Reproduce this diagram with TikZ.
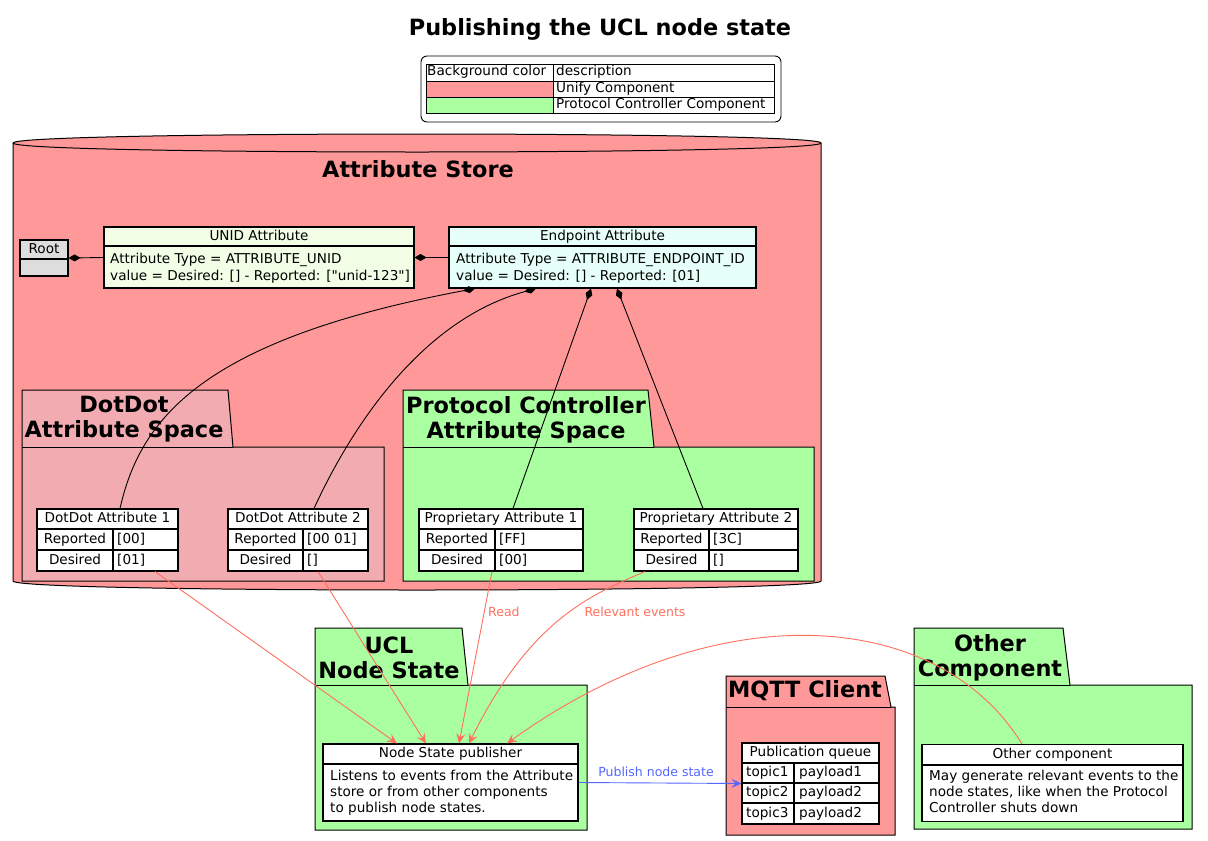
\documentclass[tikz,border=0pt]{standalone}
\usepackage{fontspec}
\setmainfont{DejaVu Sans}
\usetikzlibrary{arrows.meta}

\definecolor{unifyred}{HTML}{FF9999}
\definecolor{pcgreen}{HTML}{AAFFA0}
\definecolor{ddpink}{HTML}{F1ABB1}
\definecolor{unidfill}{HTML}{F2FFE6}
\definecolor{epfill}{HTML}{E6FFF9}
\definecolor{rootgray}{HTML}{DDDDDD}
\definecolor{eventred}{HTML}{FF6F5E}
\definecolor{pubblue}{HTML}{5566FF}

\tikzset{
    txt/.style={inner sep=0pt, font=\fontsize{13.6}{17}\selectfont, text height=9.6pt, text depth=2.8pt},
    ttl/.style={inner sep=0pt, font=\bfseries\fontsize{22.4}{25}\selectfont, align=center},
    lbl/.style={inner sep=0pt, font=\fontsize{12.5}{15}\selectfont},
    clsbox/.style={draw, line width=1.1pt, inner sep=0pt},
    pkg/.style={draw, line width=1pt},
    compose/.style={{Diamond[length=12pt,width=7pt]}-, line width=0.9pt},
    event/.style={draw=eventred, line width=0.9pt, -{Stealth[length=10pt,width=9pt,inset=4pt]}},
    publish/.style={draw=pubblue, line width=0.9pt, -{Stealth[length=10pt,width=9pt,inset=4pt]}}
}

\begin{document}
\begin{tikzpicture}[x=1pt, y=-1pt]
        \path[use as bounding box, fill=white] (0,0) rectangle (1208,841);

        % title and legend
        \node[ttl] at (600,29) (title) {Publishing the UCL node state};
        \node[draw, rounded corners=6pt, minimum width=360, minimum height=66, inner sep=0pt, line width=0.9pt] at (601,89) (legend) {};
        \fill[unifyred] (426,81) rectangle (553,97);
        \fill[pcgreen] (426,97) rectangle (553,113);
        \draw[line width=0.9pt] (426,64) rectangle (774,113);
        \draw[line width=0.9pt] (426,81) -- (774,81) (426,97) -- (774,97) (553,64) -- (553,113);
        \node[txt, anchor=west] at (427,72.5) (lgcolor) {Background color};
        \node[txt, anchor=west] at (556,72.5) (lgdesc) {description};
        \node[txt, anchor=west] at (556,89) (lgunify) {Unify Component};
        \node[txt, anchor=west] at (556,105) (lgpc) {Protocol Controller Component};

        % attribute store
        \draw[line width=1pt, fill=unifyred] (13,143) -- (13,581) .. controls (13,593) and (821,593) .. (821,581)
            -- (821,143) .. controls (821,131) and (13,131) .. (13,143) -- cycle;
        \draw[line width=1pt] (13,143) .. controls (13,155) and (821,155) .. (821,143);
        \node[ttl] at (418,169) (store) {Attribute Store};

        \draw[pkg, fill=ddpink] (22,390) -- (228,390) -- (233,447) -- (384,447) -- (384,581) -- (22,581) -- cycle;
        \draw[pkg] (22,447) -- (233,447);
        \node[ttl] at (124,419.5) (ddspace) {DotDot\\Attribute Space};

        \draw[pkg, fill=pcgreen] (403,390) -- (648,390) -- (654,447) -- (814,447) -- (814,581) -- (403,581) -- cycle;
        \draw[pkg] (403,447) -- (654,447);
        \node[ttl] at (526,419.5) (pcspace) {Protocol Controller\\Attribute Space};

        % root, unid, endpoint
        \node[clsbox, fill=rootgray, minimum width=48, minimum height=36] at (44,258) (root) {};
        \draw[line width=1.1pt] (20,259) -- (68,259);
        \node[txt] at (44,250) (roottxt) {Root};

        \node[clsbox, fill=unidfill, minimum width=310, minimum height=61] at (259,257.5) (unid) {};
        \draw[line width=1.1pt] (104,246) -- (414,246);
        \node[txt] at (259,237) (unidhead) {UNID Attribute};
        \node[txt, anchor=west] at (110,260.5) (unidtype) {Attribute Type = ATTRIBUTE\_UNID};
        \node[txt, anchor=west] at (110,277) (unidval) {value = Desired: [] - Reported: [\textquotedbl unid-123\textquotedbl]};

        \node[clsbox, fill=epfill, minimum width=307, minimum height=61] at (602.5,257.5) (ep) {};
        \draw[line width=1.1pt] (449,246) -- (756,246);
        \node[txt] at (602.5,237) (ephead) {Endpoint Attribute};
        \node[txt, anchor=west] at (456,260.5) (eptype) {Attribute Type = ATTRIBUTE\_ENDPOINT\_ID};
        \node[txt, anchor=west] at (456,277) (epval) {value = Desired: [] - Reported: [01]};

        % dotdot attributes
        \node[clsbox, fill=white, minimum width=141, minimum height=62] at (107.5,540) (dd1) {};
        \draw[line width=1.1pt] (37,529) -- (178,529) (37,550) -- (178,550) (113,529) -- (113,571);
        \node[txt] at (107.5,519.5) (dd1head) {DotDot Attribute 1};
        \node[txt] at (75,540.5) (dd1rep) {Reported};
        \node[txt] at (75,561) (dd1des) {Desired};
        \node[txt, anchor=west] at (117,540.5) (dd1repval) {[00]};
        \node[txt, anchor=west] at (117,561) (dd1desval) {[01]};

        \node[clsbox, fill=white, minimum width=140, minimum height=62] at (298,540) (dd2) {};
        \draw[line width=1.1pt] (228,529) -- (368,529) (228,550) -- (368,550) (303,529) -- (303,571);
        \node[txt] at (298,519.5) (dd2head) {DotDot Attribute 2};
        \node[txt] at (265.5,540.5) (dd2rep) {Reported};
        \node[txt] at (265.5,561) (dd2des) {Desired};
        \node[txt, anchor=west] at (307,540.5) (dd2repval) {[00 01]};
        \node[txt, anchor=west] at (307,561) (dd2desval) {[]};

        % proprietary attributes
        \node[clsbox, fill=white, minimum width=164, minimum height=62] at (501,540) (p1) {};
        \draw[line width=1.1pt] (419,529) -- (583,529) (419,550) -- (583,550) (495,529) -- (495,571);
        \node[txt] at (501,519.5) (p1head) {Proprietary Attribute 1};
        \node[txt] at (457,540.5) (p1rep) {Reported};
        \node[txt] at (457,561) (p1des) {Desired};
        \node[txt, anchor=west] at (499,540.5) (p1repval) {[FF]};
        \node[txt, anchor=west] at (499,561) (p1desval) {[00]};

        \node[clsbox, fill=white, minimum width=164, minimum height=62] at (716,540) (p2) {};
        \draw[line width=1.1pt] (634,529) -- (798,529) (634,550) -- (798,550) (709,529) -- (709,571);
        \node[txt] at (716,519.5) (p2head) {Proprietary Attribute 2};
        \node[txt] at (671.5,540.5) (p2rep) {Reported};
        \node[txt] at (671.5,561) (p2des) {Desired};
        \node[txt, anchor=west] at (713,540.5) (p2repval) {[3C]};
        \node[txt, anchor=west] at (713,561) (p2desval) {[]};

        % ucl node state
        \draw[pkg, fill=pcgreen] (315,628) -- (462,628) -- (468,685) -- (587,685) -- (587,830) -- (315,830) -- cycle;
        \draw[pkg] (315,685) -- (468,685);
        \node[ttl] at (389,657.5) (uclpkg) {UCL\\Node State};
        \node[clsbox, fill=white, minimum width=255, minimum height=77] at (450.5,782.5) (nsp) {};
        \draw[line width=1.1pt] (323,764) -- (578,764);
        \node[txt] at (450.5,754.5) (nsphead) {Node State publisher};
        \node[txt, anchor=west] at (330,777.5) (nsp1) {Listens to events from the Attribute};
        \node[txt, anchor=west] at (330,793.5) (nsp2) {store or from other components};
        \node[txt, anchor=west] at (330,809.5) (nsp3) {to publish node states.};

        % mqtt client
        \draw[pkg, fill=unifyred] (726,676) -- (885,676) -- (891,707) -- (895,707) -- (895,835) -- (726,835) -- cycle;
        \draw[pkg] (726,707) -- (891,707);
        \node[ttl] at (805,691) (mqttpkg) {MQTT Client};
        \node[clsbox, fill=white, minimum width=137, minimum height=81] at (810.5,783.5) (pq) {};
        \draw[line width=1.1pt] (742,763) -- (879,763) (742,783) -- (879,783) (742,803) -- (879,803) (794,763) -- (794,824);
        \node[txt] at (810.5,753.5) (pqhead) {Publication queue};
        \node[txt, anchor=west] at (746,773.5) (pqt1) {topic1};
        \node[txt, anchor=west] at (746,793.5) (pqt2) {topic2};
        \node[txt, anchor=west] at (746,814) (pqt3) {topic3};
        \node[txt, anchor=west] at (799,773.5) (pqp1) {payload1};
        \node[txt, anchor=west] at (799,793.5) (pqp2) {payload2};
        \node[txt, anchor=west] at (799,814) (pqp3) {payload2};

        % other component
        \draw[pkg, fill=pcgreen] (914,628) -- (1063,628) -- (1070,685) -- (1192,685) -- (1192,829) -- (914,829) -- cycle;
        \draw[pkg] (914,685) -- (1070,685);
        \node[ttl] at (990,658) (otherpkg) {Other\\Component};
        \node[clsbox, fill=white, minimum width=261, minimum height=77] at (1052.5,783) (other) {};
        \draw[line width=1.1pt] (922,765) -- (1183,765);
        \node[txt] at (1052.5,755.5) (otherhead) {Other component};
        \node[txt, anchor=west] at (929,777.5) (other1) {May generate relevant events to the};
        \node[txt, anchor=west] at (929,793.5) (other2) {node states, like when the Protocol};
        \node[txt, anchor=west] at (929,809.5) (other3) {Controller shuts down};

        % compositions
        \draw[compose] (root.east) -- (unid.west);
        \draw[compose] (unid.east) -- (ep.west);
        \draw[compose] ([xshift=-127.5]ep.south) .. controls (200,340) and (140,420) .. ([xshift=12.5]dd1.north);
        \draw[compose] ([xshift=-66.5]ep.south) .. controls (420,320) and (350,430) .. ([xshift=16]dd2.north);
        \draw[compose] ([xshift=-11.5]ep.south) -- ([xshift=12]p1.north);
        \draw[compose] ([xshift=14.5]ep.south) -- ([xshift=-13]p2.north);

        % events
        \draw[event] ([xshift=47.5]dd1.south) -- ([xshift=-53.5]nsp.north);
        \draw[event] ([xshift=20]dd2.south) -- ([xshift=-24.5]nsp.north);
        \draw[event] ([xshift=-9]p1.south) -- ([xshift=8.5]nsp.north);
        \draw[event] ([xshift=-71]p2.south) .. controls (590,595) and (530,620) .. ([xshift=18.5]nsp.north);
        \draw[event] ([xshift=-30.5]other.north) .. controls (940,610) and (720,590) .. ([xshift=56.5]nsp.north);
        \node[lbl, text=eventred, anchor=west] at (488,612) (readlbl) {Read};
        \node[lbl, text=eventred] at (635,612) (eventlbl) {Relevant events};

        % publish
        \draw[publish] (nsp.east) -- (pq.west);
        \node[lbl, text=pubblue] at (656,772) (publbl) {Publish node state};
    \end{tikzpicture}
\end{document}
